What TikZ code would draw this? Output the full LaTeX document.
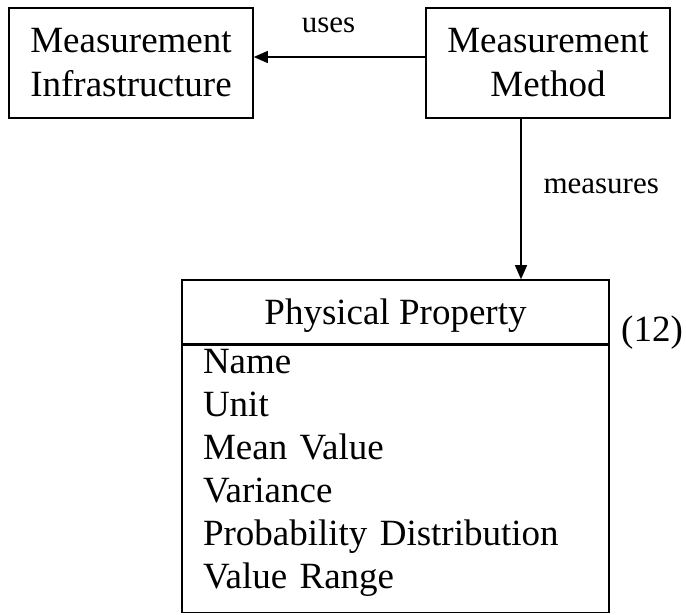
\documentclass[tikz,border=0pt]{standalone}
\usepackage{fontspec}
\setmainfont{Liberation Serif}
\usepackage{tikz}
\usetikzlibrary{arrows.meta}

\tikzset{
    box/.style={draw, line width=1.6pt, rectangle, align=center, font=\fontsize{37}{44}\selectfont},
    lbl/.style={font=\fontsize{31}{34}\selectfont},
    >={Triangle[length=14pt,width=12pt]}
}

\begin{document}
\begin{tikzpicture}[x=1pt, y=-1pt]
        \useasboundingbox (0,0) rectangle (686,614);

        % Nodi
        \node[box, minimum width=244pt, minimum height=110pt] (infra) at (131,63) {Measurement\\Infrastructure};
        \node[box, minimum width=244pt, minimum height=110pt] (method) at (548,63) {Measurement\\Method};
        \node[box, minimum width=427pt, minimum height=64pt, text depth=0pt] (prop) at (395.5,312) {Physical Property};
        \node[box, anchor=north west, align=left, text width=385pt, inner xsep=21pt, inner ysep=3pt,
              text height=24.5pt, text depth=236.5pt, font=\fontsize{37}{43}\selectfont] (attr) at (prop.south west)
              {Name\\Unit\\Mean Value\\Variance\\Probability Distribution\\Value Range};
        \node[anchor=base, font=\fontsize{37}{44}\selectfont] (num) at (652,341) {(12)};

        % Etichette
        \node[lbl, anchor=base] (uses) at (328.5,32) {uses};
        \node[lbl, anchor=base west] (meas) at (540,193) {measures};

        % Archi
        \draw[->, line width=1.3pt] ([yshift=6pt]method.west) -- ([yshift=6pt]infra.east); % da metodo a infrastruttura
        \draw[->, line width=1.3pt] ([xshift=-27pt]method.south) -- ([xshift=-27pt]method.south |- prop.north); % da metodo a proprieta
\end{tikzpicture}
\end{document}
